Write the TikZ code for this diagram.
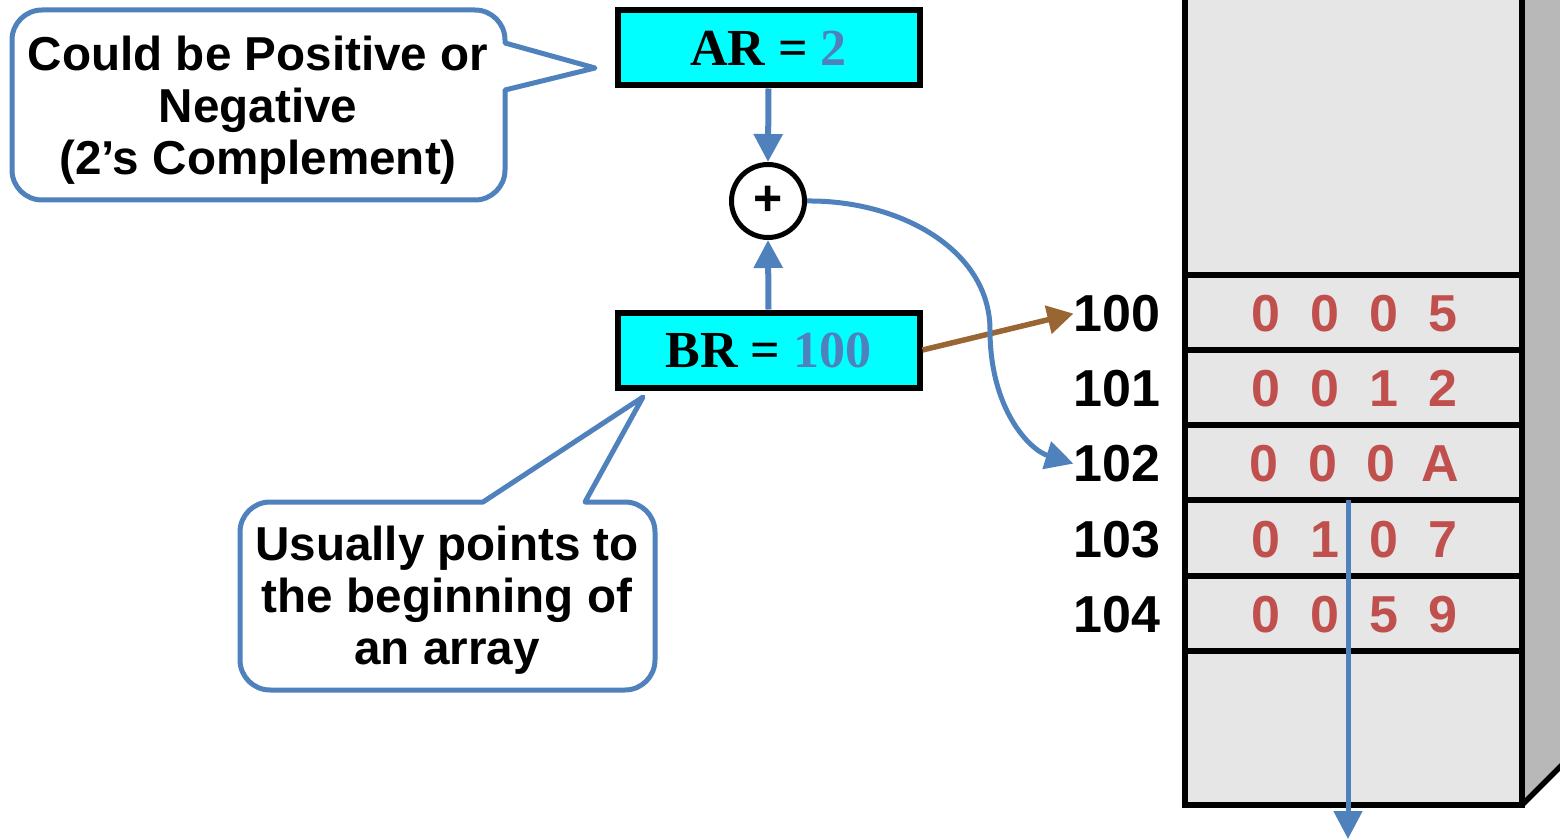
\documentclass[tikz,border=0pt]{standalone}
\usepackage{fontspec}
\setmainfont{Liberation Sans}
\newfontfamily\regserif{Liberation Serif}
\usetikzlibrary{arrows.meta}

\definecolor{callblue}{HTML}{4F81BD}
\definecolor{regcyan}{HTML}{00FFFF}
\definecolor{memred}{HTML}{C0504D}
\definecolor{ptrbrown}{HTML}{996633}
\definecolor{memfill}{HTML}{E6E6E6}
\definecolor{memside}{HTML}{B8B8B8}

% four memory digits on a fixed pitch
\newcommand\memdigits[4]{\makebox[29.5pt]{#1}\makebox[29.5pt]{#2}\makebox[29.5pt]{#3}\makebox[29.5pt]{#4}}

\begin{document}
\begin{tikzpicture}[x=0.5pt,y=-0.5pt,
  reg/.style={draw=black, line width=3pt, fill=regcyan, minimum width=151pt,
    minimum height=37.5pt, inner sep=0pt, font=\regserif\bfseries\fontsize{26}{30}\selectfont},
  callout/.style={draw=callblue, line width=2.5pt, fill=white, line join=round},
  calltext/.style={font=\bfseries\fontsize{23.8}{26}\selectfont, align=center,
    inner sep=0pt, anchor=north},
  addr/.style={font=\bfseries\fontsize{26}{30}\selectfont, inner sep=0pt, anchor=base east},
  memword/.style={font=\bfseries\fontsize{26}{30}\selectfont, text=memred, inner sep=0pt, anchor=base},
  memline/.style={line width=2.75pt},
  flow/.style={draw=callblue, line width=3pt, -{Triangle[length=14pt,width=14pt]}},
  ptr/.style={draw=ptrbrown, line width=2.75pt, -{Triangle[length=13pt,width=14pt]}}]

\clip (0,0) rectangle (1560,840);

% memory block with its shaded side face
\fill[memside] (1522,-10) -- (1620,-10) -- (1620,705) -- (1522,805) -- cycle;
\draw[memline] (1522,805) -- (1620,707);
\fill[memfill] (1185,-10) rectangle (1522,805);
\foreach \y in {275,350,425,500,576,651}
  \draw[memline] (1185,\y) -- (1525,\y);
\draw[memline] (1185,-10) -- (1185,805) -- (1522,805) -- (1522,-10);

% memory contents and addresses
\node[memword] (m100) at (1354.5,331.5) {\memdigits0005};
\node[memword] (m101) at (1354.5,406.5) {\memdigits0012};
\node[memword] (m102) at (1352,481.5) {\memdigits000A};
\node[memword] (m103) at (1354.5,557) {\memdigits0107};
\node[memword] (m104) at (1354.5,632.5) {\memdigits0059};

\node[addr] (a100) at (1161,331.5) {100};
\node[addr] (a101) at (1161,406.5) {101};
\node[addr] (a102) at (1161,481.5) {102};
\node[addr] (a103) at (1161,557) {103};
\node[addr] (a104) at (1161,632.5) {104};

% callouts
\draw[callout, rounded corners=15pt] (12,10) -- (505,10)
  [sharp corners] -- (505,43) -- (595,68) -- (505,90)
  [rounded corners=15pt] -- (505,200) -- (12,200) -- cycle;
\node[calltext] (note1) at (258,35.5) {Could be Positive or\\Negative\\(2’s Complement)};

\draw[callout, rounded corners=15pt] (240,502)
  [sharp corners] -- (483,502) -- (643,397) -- (585,502)
  [rounded corners=15pt] -- (655,502) -- (655,690) -- (240,690) -- cycle;
\node[calltext] (note2) at (447,525.5) {Usually points to\\the beginning of\\an array};

% registers and adder
\node[reg] (AR) at (768.5,48) {AR = \textcolor{callblue}{2}};
\node[reg] (BR) at (768.5,350) {BR = \textcolor{callblue}{100}};
\node[circle, draw, line width=2.5pt, minimum size=36.5pt, inner sep=0pt, fill=white,
  font=\bfseries\fontsize{25}{25}\selectfont] (sum) at (768,201) {+};

% connectors
\draw[flow] (AR.south) -- (sum.north);
\draw[flow] (BR.north) -- (sum.south);
\draw[ptr] (BR.east) -- (a100.west);
\draw[flow, line width=2.5pt] (sum.east) .. controls (900,200) and (990,250) .. (990,330)
  .. controls (990,410) and (1030,450) .. (a102.west);

\coordinate (scanstart) at (1348,500);
\coordinate (scanend) at (1348,839);
\draw[flow, line width=2.5pt] (scanstart) -- (scanend);
\end{tikzpicture}
\end{document}
